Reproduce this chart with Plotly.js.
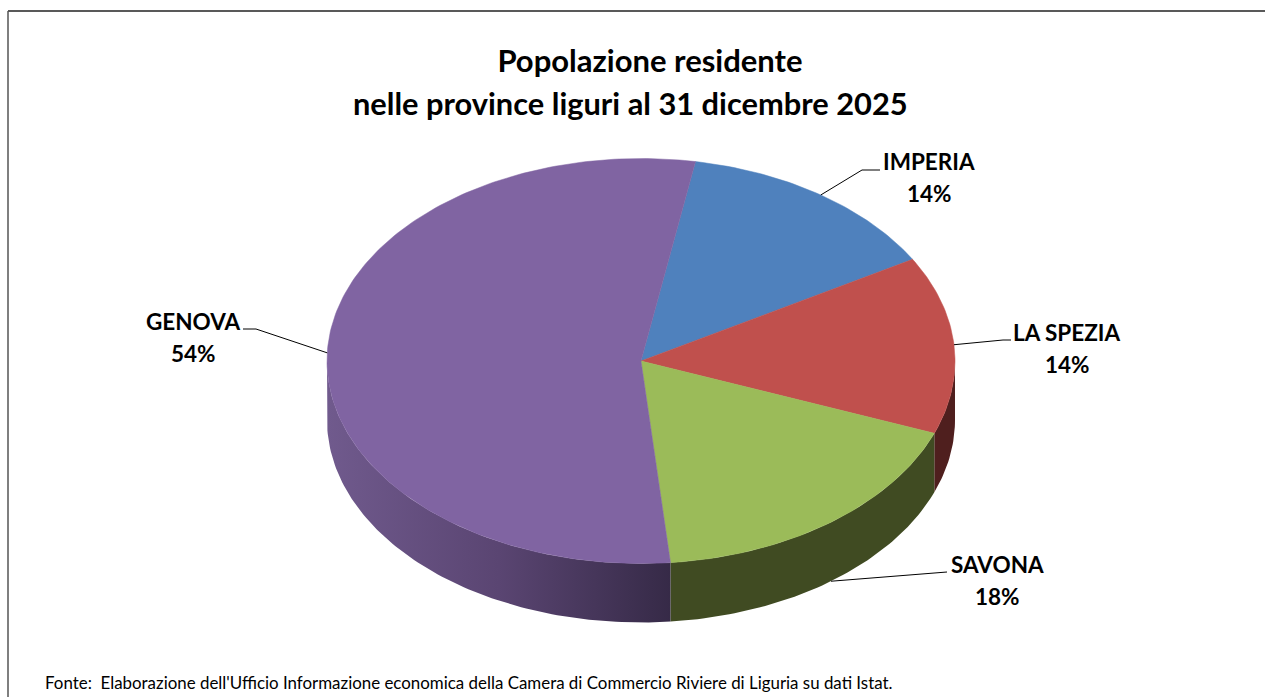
<!DOCTYPE html>
<html>
<head>
<meta charset="utf-8">
<script src="https://cdn.plot.ly/plotly-3.0.1.min.js"></script>
<style>html,body{margin:0;padding:0;background:#fff;overflow:hidden}#chart{width:1265px;height:697px}</style>
</head>
<body>
<div id="chart"></div>
<script>
// Data (residents, thousands)
const provinces = ['IMPERIA', 'LA SPEZIA', 'SAVONA', 'GENOVA'];
const residents = [209, 214, 267, 819];
const topColors = ['#4f81bd', '#c0504d', '#9bbb59', '#8064a2'];
const titleLines = ['Popolazione residente', 'nelle province liguri al 31 dicembre 2025'];
const sourceText = "Fonte:  Elaborazione dell'Ufficio Informazione economica della Camera di Commercio Riviere di Liguria su dati Istat.";

// Side-wall shading per province (no wall is visible for Imperia)
const wallScales = [
  null,
  [[0, '#4f1f1e'], [1, '#4f1f1e']],
  [[0, '#404b22'], [1, '#404b22']],
  [[0, '#705a8d'], [0.5, '#5a4572'], [1, '#362a47']]
];

// Pie geometry on the pixel-scaled hidden axes
const geom = {cx: 641, cy: 361, rx: 314, ry: 202.5, depth: 59, start: 10};
// Label placement: centre of the text and leader elbows
const labelPos = [
  {x: 929, y1: 161, y2: 193, elbow: [862, 170], end: [880, 170]},
  {x: 1067, y1: 332, y2: 364, elbow: [1003, 340], end: [1011, 340]},
  {x: 997, y1: 564, y2: 596, elbow: [930, 573], end: [947, 572]},
  {x: 193, y1: 321, y2: 353, elbow: [256, 329], end: [243, 329]}
];
const font = 'Lato, Carlito, "Open Sans", sans-serif';

const total = residents.reduce((a, b) => a + b, 0);
const px = d => geom.cx + geom.rx * Math.sin(d * Math.PI / 180);
const py = (d, drop) => geom.cy - geom.ry * Math.cos(d * Math.PI / 180) + (drop || 0);
function arc(a, b, drop) {
  const xs = [], ys = [], n = Math.max(2, Math.ceil(Math.abs(b - a)));
  for (let i = 0; i <= n; i++) {
    const d = a + (b - a) * i / n;
    xs.push(px(d)); ys.push(py(d, drop));
  }
  return [xs, ys];
}

let angle = geom.start;
const slices = residents.map(v => {
  const s = {a: angle, b: angle + v / total * 360};
  angle = s.b;
  return s;
});

const traces = [];
// Walls: only the front half (90..270 deg clockwise from the top) is visible
slices.forEach((s, i) => {
  if (!wallScales[i]) return;
  const a = Math.max(s.a, 90), b = Math.min(s.b, 270);
  if (b <= a) return;
  const top = arc(a, b, 0), bottom = arc(b, a, geom.depth);
  traces.push({
    type: 'scatter', mode: 'lines', name: provinces[i] + ' wall',
    x: top[0].concat(bottom[0]).concat([top[0][0]]),
    y: top[1].concat(bottom[1]).concat([top[1][0]]),
    fill: 'toself', line: {width: 0, color: wallScales[i][0][1]},
    fillcolor: wallScales[i][0][1],
    fillgradient: {type: 'horizontal', colorscale: wallScales[i]},
    hoverinfo: 'skip', showlegend: false
  });
});
// Top faces
slices.forEach((s, i) => {
  const r = arc(s.a, s.b, 0);
  traces.push({
    type: 'scatter', mode: 'lines', name: provinces[i],
    x: [geom.cx].concat(r[0]).concat([geom.cx]),
    y: [geom.cy].concat(r[1]).concat([geom.cy]),
    fill: 'toself', fillcolor: topColors[i],
    line: {width: 0.5, color: topColors[i]},
    hoverinfo: 'skip', showlegend: false
  });
});
// Leader lines start at the slice's middle angle on the rim
slices.forEach((s, i) => {
  const mid = (s.a + s.b) / 2;
  const front = mid > 100 && mid < 260;
  const p = labelPos[i];
  traces.push({
    type: 'scatter', mode: 'lines', name: provinces[i] + ' leader',
    x: [px(mid), p.elbow[0], p.end[0]],
    y: [py(mid, front ? geom.depth : 0), p.elbow[1], p.end[1]],
    line: {width: 1, color: '#000'},
    hoverinfo: 'skip', showlegend: false
  });
});

const labelFont = {family: font, size: 22.5, color: '#000'};
const annotations = [];
slices.forEach((s, i) => {
  const p = labelPos[i];
  const pct = Math.round(residents[i] / total * 100) + '%';
  [[provinces[i], p.y1], [pct, p.y2]].forEach(t => annotations.push({
    xref: 'x', yref: 'y', x: p.x, y: t[1], text: '<b>' + t[0] + '</b>', showarrow: false,
    xanchor: 'center', yanchor: 'middle', font: labelFont
  }));
});
annotations.push({
  xref: 'x', yref: 'y', x: 630, y: 103, text: '<b>' + titleLines[1] + '</b>', showarrow: false,
  xanchor: 'center', yanchor: 'middle', font: {family: font, size: 30.8, color: '#000'}
});
annotations.push({
  xref: 'x', yref: 'y', x: 43, y: 682, text: sourceText, showarrow: false,
  xanchor: 'left', yanchor: 'middle', font: {family: font, size: 16.9, color: '#000'}
});

const layout = {
  width: 1265, height: 697, autosize: false,
  margin: {l: 0, r: 0, t: 0, b: 0},
  paper_bgcolor: '#fff', plot_bgcolor: '#fff',
  showlegend: false,
  title: {
    text: '<b>' + titleLines[0] + '</b>',
    x: 650 / 1265, xanchor: 'center', y: 1 - 61 / 697, yanchor: 'middle',
    font: {family: font, size: 31, color: '#000'}
  },
  xaxis: {range: [0, 1265], visible: false, fixedrange: true},
  yaxis: {range: [697, 0], visible: false, fixedrange: true},
  annotations: annotations,
  shapes: [
    {type: 'line', xref: 'x', yref: 'y', x0: 8, x1: 1265, y0: 11, y1: 11, line: {color: '#222', width: 1.5}},
    {type: 'line', xref: 'x', yref: 'y', x0: 8, x1: 8, y0: 11, y1: 697, line: {color: '#555', width: 1.5}}
  ]
};

Plotly.newPlot('chart', traces, layout, {displayModeBar: false, staticPlot: true});
</script>
</body>
</html>
